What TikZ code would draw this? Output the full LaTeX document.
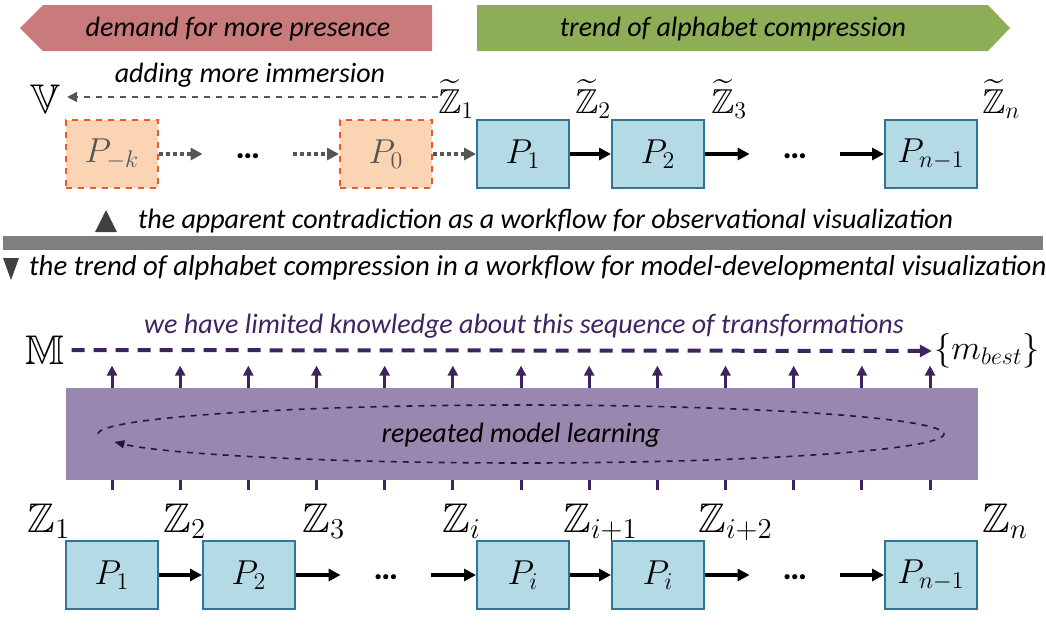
\documentclass[tikz,border=0pt]{standalone}
\usepackage{amsmath,amssymb}
\usepackage{fontspec}
\setmainfont{Carlito}
\usepackage{tikz}
\usetikzlibrary{arrows.meta}

\definecolor{boxblue}{HTML}{B4DAE6}
\definecolor{boxedge}{HTML}{31749A}
\definecolor{peach}{HTML}{FBD4B4}
\definecolor{peachedge}{HTML}{EE5A24}
\definecolor{redband}{HTML}{C97A7A}
\definecolor{greenband}{HTML}{8DAD57}
\definecolor{lilac}{HTML}{9A87B0}
\definecolor{plum}{HTML}{3D2461}
\definecolor{bargray}{HTML}{7F7F7F}
\definecolor{flowgray}{HTML}{555555}

\begin{document}
\begin{tikzpicture}[x=0.5pt,y=-0.5pt,>={Triangle[length=6pt,width=6pt]},
  stage/.style={draw=boxedge,fill=boxblue,line width=1pt,minimum width=46pt,minimum height=34pt,inner sep=0pt,font=\fontsize{17.28}{19}\selectfont},
  ghost/.style={stage,draw=peachedge,fill=peach,dashed,text=flowgray},
  gap/.style={minimum width=45pt,inner sep=0pt,font=\bfseries\fontsize{17.28}{19}\selectfont},
  zlab/.style={anchor=base west,inner sep=0pt,font=\fontsize{17.28}{19}\selectfont},
  zlabb/.style={zlab,font=\fontsize{20.74}{22}\selectfont},
  bandtext/.style={font=\itshape\fontsize{14}{16}\selectfont},
  solidflow/.style={->,line width=2pt},
  dotflow/.style={->,line width=2pt,flowgray,dash pattern=on 2pt off 1.5pt},
  upflow/.style={->,line width=1.5pt,plum,>={Triangle[length=5pt,width=5pt]}}]
  \useasboundingbox (0,0) rectangle (1046,629);

  % Banners
  \fill[redband] (20,28) -- (43,5) -- (432,5) -- (432,51) -- (43,51) -- cycle;
  \node[bandtext] (demand) at (238,29) {demand for more presence};
  \fill[greenband] (477,5) -- (988,5) -- (1010,28) -- (988,51) -- (477,51) -- cycle;
  \node[bandtext] (trend) at (733,29) {trend of alphabet compression};

  % Observational workflow
  \node[bandtext] (immersion) at (250,75) {adding more immersion};
  \node[font=\fontsize{20.74}{22}\selectfont] (vset) at (45,99) {$\mathbb{V}$};
  \node[ghost] (pk) at (112,154) {$P_{-k}$};
  \node[gap] (dotsA) at (248,156) {\ldots};
  \node[ghost] (p0) at (386,154) {$P_0$};
  \node[stage] (p1) at (523,154) {$P_1$};
  \node[stage] (p2) at (658,154) {$P_2$};
  \node[gap] (dotsB) at (795,156) {\ldots};
  \node[stage] (pn) at (931,154) {$P_{n-1}$};
  \node[zlab] (tz1) at (438,113) {$\widetilde{\mathbb{Z}}_1$};
  \node[zlab] (tz2) at (575,113) {$\widetilde{\mathbb{Z}}_2$};
  \node[zlab] (tz3) at (711,113) {$\widetilde{\mathbb{Z}}_3$};
  \node[zlab] (tzn) at (982,113) {$\widetilde{\mathbb{Z}}_n$};
  \draw[->,flowgray,dashed,line width=0.8pt,>={Triangle[length=5pt,width=5pt]}] (tz1.west |- 0,97) -- (vset.east |- 0,97);
  \draw[dotflow] (pk) -- (pk -| dotsA.west);
  \draw[dotflow] (dotsA.east |- p0) -- (p0);
  \draw[dotflow] (p0) -- (p1);
  \draw[solidflow] (p1) -- (p2);
  \draw[solidflow] (p2) -- (p2 -| dotsB.west);
  \draw[solidflow] (dotsB.east |- pn) -- (pn);

  % Divider
  \fill[darkgray] (95,232) -- (106,210) -- (117,232) -- cycle;
  \node[anchor=west,font=\itshape\fontsize{14}{16}\selectfont] (obs) at (131,221) {the apparent contradiction as a workflow for observational visualization};
  \fill[bargray] (3,236) rectangle (1043,250);
  \fill[darkgray] (3,258) -- (19,258) -- (11,280) -- cycle;
  \node[anchor=west,font=\itshape\fontsize{14.4}{16}\selectfont] (dev) at (22,268) {the trend of alphabet compression in a workflow for model-developmental visualization};

  % Model-developmental workflow
  \node[bandtext,plum] (limited) at (524,326) {we have limited knowledge about this sequence of transformations};
  \node[font=\fontsize{20.74}{22}\selectfont] (mset) at (45,350) {$\mathbb{M}$};
  \node[font=\fontsize{17.28}{19}\selectfont,inner sep=1pt] (mbest) at (987,351) {$\{m_{best}\}$};
  \draw[->,plum,line width=2pt,dash pattern=on 6.5pt off 4.5pt] (mset) -- (mbest);
  \node[fill=lilac,minimum width=456pt,minimum height=46pt,inner sep=0pt] (learn) at (522,434) {};
  \foreach \i in {0,...,12} {
    \draw[upflow] (learn.north -| {112+\i*68.17},0) -- ++(0,-22);
    \draw[line width=1.5pt,plum] (learn.south -| {112+\i*68.17},0) -- ++(0,10);
  }
  \draw[->,dashed,line width=0.8pt,plum!60!black,>={Triangle[length=5pt,width=4pt]}] (98,434) arc[start angle=180,end angle=524,x radius=423,y radius=29];
  \node[bandtext] (repeat) at (521,435) {repeated model learning};

  \node[stage] (q1) at (112,575) {$P_1$};
  \node[stage] (q2) at (249,575) {$P_2$};
  \node[gap] (dotsC) at (386,577) {\ldots};
  \node[stage] (qi) at (523,575) {$P_i$};
  \node[stage] (qj) at (658,575) {$P_i$};
  \node[gap] (dotsD) at (795,577) {\ldots};
  \node[stage] (qn) at (931,575) {$P_{n-1}$};
  \node[zlabb] (z1) at (27,532) {$\mathbb{Z}_1$};
  \node[zlabb] (z2) at (163,532) {$\mathbb{Z}_2$};
  \node[zlabb] (z3) at (302,532) {$\mathbb{Z}_3$};
  \node[zlabb] (zi) at (442,532) {$\mathbb{Z}_i$};
  \node[zlabb] (zi1) at (563,532) {$\mathbb{Z}_{i+1}$};
  \node[zlabb] (zi2) at (698,532) {$\mathbb{Z}_{i+2}$};
  \node[zlabb] (zn) at (982,532) {$\mathbb{Z}_n$};
  \draw[solidflow] (q1) -- (q2);
  \draw[solidflow] (q2) -- (q2 -| dotsC.west);
  \draw[solidflow] (dotsC.east |- qi) -- (qi);
  \draw[solidflow] (qi) -- (qj);
  \draw[solidflow] (qj) -- (qj -| dotsD.west);
  \draw[solidflow] (dotsD.east |- qn) -- (qn);
\end{tikzpicture}
\end{document}
